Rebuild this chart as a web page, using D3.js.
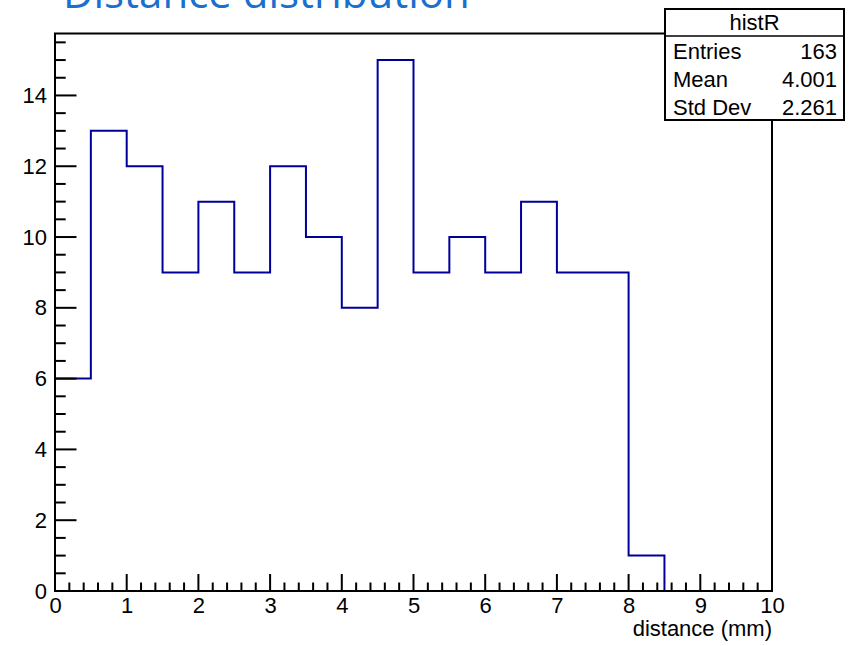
<!DOCTYPE html>
<html>
<head>
<meta charset="utf-8">
<script src="https://cdn.jsdelivr.net/npm/d3@7"></script>
<style>
  html, body { margin: 0; padding: 0; background: #fff; }
  svg { display: block; }
  text { font-family: "Liberation Sans", Arial, Helvetica, sans-serif; }
</style>
</head>
<body>
<svg id="chart" width="862" height="646"></svg>
<script>
// Histogram "histR": counts per 0.5 mm bin from 0 to 10 mm
const binEdgesStart = 0;
const binWidth = 0.5;
const counts = [6, 13, 12, 9, 11, 9, 12, 10, 8, 15, 9, 10, 9, 11, 9, 9, 1, 0, 0, 0];
const xTicks = [0, 1, 2, 3, 4, 5, 6, 7, 8, 9, 10];
const yTicks = [0, 2, 4, 6, 8, 10, 12, 14];
const statsLabels = ["Entries", "Mean", "Std Dev"];
const statsValues = ["163", "4.001", "2.261"];
const titleText = "Distance distribution";
const histName = "histR";
const xTitle = "distance (mm)";

const svg = d3.select("#chart");
const frame = { left: 55, right: 772, top: 33.5, bottom: 591 };
const lineColor = "#000099";
const fs = "22px";

const x = d3.scaleLinear().domain([0, 10]).range([frame.left, frame.right]);
const y = d3.scaleLinear().domain([0, 15.75]).range([frame.bottom, frame.top]);

// Title (partly clipped at the top of the canvas)
svg.append("text")
  .attr("x", 63).attr("y", 8)
  .attr("fill", "#1a6fcf")
  .style("font-family", "'Open Sans', 'Noto Sans', sans-serif")
  .style("font-size", "42px")
  .text(titleText);

// Histogram outline as a step path
const pts = [];
counts.forEach((c, i) => {
  const x0 = binEdgesStart + i * binWidth, x1 = x0 + binWidth;
  pts.push([x(x0), y(c)], [x(x1), y(c)]);
});
pts.unshift([x(0), y(0)]);
svg.append("path")
  .attr("d", d3.line()(pts))
  .attr("fill", "none")
  .attr("stroke", lineColor)
  .attr("stroke-width", 2);

// Frame
svg.append("rect")
  .attr("x", frame.left).attr("y", frame.top)
  .attr("width", frame.right - frame.left).attr("height", frame.bottom - frame.top)
  .attr("fill", "none").attr("stroke", "#000").attr("stroke-width", 2);

// X axis: major ticks every 1, minor every 0.2, drawn upward
const xMajorLen = 17, xMinorLen = 8.5;
const xAxis = d3.axisBottom(x).tickValues(xTicks).tickSize(0).tickPadding(0).tickFormat(d3.format("d"));
const gx = svg.append("g").attr("transform", `translate(0,${frame.bottom})`).call(xAxis);
gx.select(".domain").remove();
gx.selectAll("text").attr("dy", null).attr("y", 22).style("font-size", fs).attr("fill", "#000");
const xMinor = d3.range(0, 50.5, 1).map(v => v / 5);
svg.append("g").selectAll("line").data(xMinor).join("line")
  .attr("x1", d => x(d)).attr("x2", d => x(d))
  .attr("y1", frame.bottom)
  .attr("y2", d => frame.bottom - (Math.abs(d - Math.round(d)) < 1e-9 ? xMajorLen : xMinorLen))
  .attr("stroke", "#000").attr("stroke-width", 2);

// Y axis: major ticks every 2, minor every 0.5, drawn rightward
const yMajorLen = 21.5, yMinorLen = 10.7;
const yAxis = d3.axisLeft(y).tickValues(yTicks).tickSize(0).tickPadding(8).tickFormat(d3.format("d"));
const gy = svg.append("g").attr("transform", `translate(${frame.left},0)`).call(yAxis);
gy.select(".domain").remove();
gy.selectAll("text").style("font-size", fs).attr("fill", "#000");
const yMinor = d3.range(0, 32, 1).map(v => v / 2).filter(v => v <= 15.75);
svg.append("g").selectAll("line").data(yMinor).join("line")
  .attr("x1", frame.left)
  .attr("x2", d => frame.left + (d % 2 === 0 ? yMajorLen : yMinorLen))
  .attr("y1", d => y(d)).attr("y2", d => y(d))
  .attr("stroke", "#000").attr("stroke-width", 2);

// X axis title
svg.append("text")
  .attr("x", frame.right).attr("y", 636)
  .attr("text-anchor", "end")
  .style("font-size", fs)
  .text(xTitle);

// Statistics box
const box = { x: 665, y: 9, w: 179, h: 111, header: 27 };
const gs = svg.append("g");
gs.append("rect").attr("x", box.x).attr("y", box.y).attr("width", box.w).attr("height", box.h)
  .attr("fill", "#fff").attr("stroke", "#000").attr("stroke-width", 2);
gs.append("line").attr("x1", box.x).attr("x2", box.x + box.w)
  .attr("y1", box.y + box.header).attr("y2", box.y + box.header)
  .attr("stroke", "#000").attr("stroke-width", 1.5);
gs.append("text").attr("x", box.x + box.w / 2).attr("y", box.y + 21)
  .attr("text-anchor", "middle").style("font-size", fs).text(histName);
statsLabels.forEach((lab, i) => {
  const by = box.y + box.header + 23 + i * 28;
  gs.append("text").attr("x", box.x + 8).attr("y", by).style("font-size", fs).text(lab);
  gs.append("text").attr("x", box.x + box.w - 7).attr("y", by)
    .attr("text-anchor", "end").style("font-size", fs).text(statsValues[i]);
});
</script>
</body>
</html>
